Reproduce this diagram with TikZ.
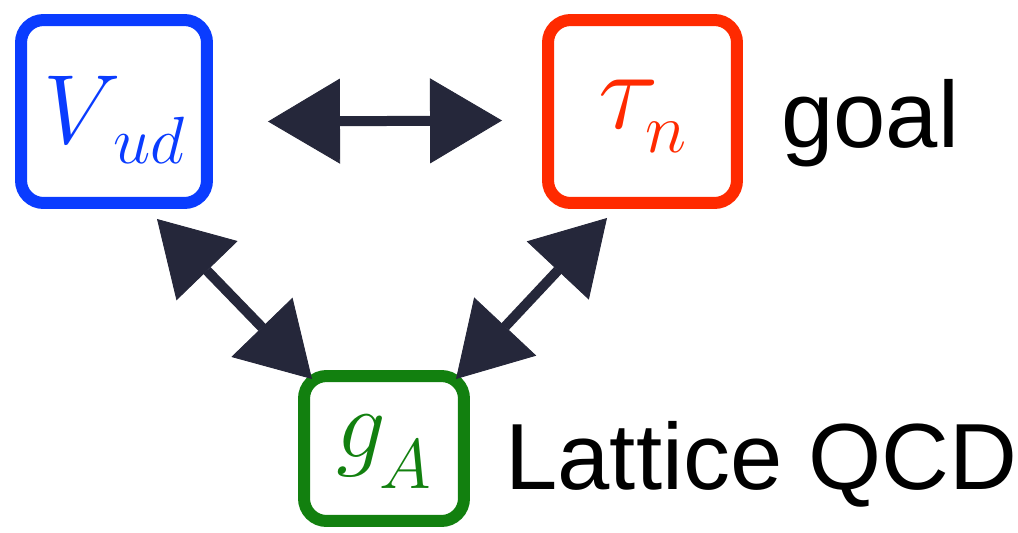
\RequirePackage{fix-cm}
\documentclass[tikz,border=0pt]{standalone}
\usepackage{fontspec}
\setsansfont{Liberation Sans}
\usetikzlibrary{arrows.meta,calc}
\definecolor{vudblue}{HTML}{0A3CFF}
\definecolor{taured}{HTML}{FF2A00}
\definecolor{gagreen}{HTML}{12800F}
\definecolor{arrowink}{HTML}{25273A}

% symbol with a lowered subscript: main, sub, size, sub size, drop, kern
\newcommand{\symsub}[6]{%
  {\fontsize{#3}{#3}\selectfont$#1$}\kern#6%
  \raisebox{-#5}{\fontsize{#4}{#4}\selectfont$#2$}}

\begin{document}
\begin{tikzpicture}[x=0.02cm,y=-0.02cm]
  \tikzset{
    box/.style={draw=#1,text=#1,line width=0.24cm,rounded corners=0.45cm,
      inner sep=0pt,text depth=0.02cm},
    link/.style={arrowink,line width=0.2cm,
      {Triangle[length=1.44cm,width=1.7cm,line width=0.5pt]}-{Triangle[length=1.44cm,width=1.7cm,line width=0.5pt]}},
    tag/.style={font=\sffamily\fontsize{53.5pt}{56pt}\selectfont,text=black,
      inner sep=0pt,anchor=base west},
  }
  \useasboundingbox (0,0) rectangle (1018,532);

  % Boxes, centred on the stroke line.
  \node[box=vudblue,minimum width=3.72cm,minimum height=3.66cm,text height=1.28cm]
    (vud) at (114,111.5) {\symsub{V}{ud}{56pt}{38pt}{11.4pt}{-4pt}};
  \node[box=taured,minimum width=3.78cm,minimum height=3.66cm,text height=0.68cm]
    (tau) at (642.5,111.5) {\symsub{\tau}{n}{64pt}{40pt}{14.2pt}{-8pt}\hspace{0.25cm}};
  \node[box=gagreen,minimum width=3.2cm,minimum height=2.9cm,text height=0.36cm]
    (ga) at (384,448.5) {\symsub{g}{A}{56pt}{40pt}{18.2pt}{-4pt}};

  % Side labels.
  \node[tag] (goal) at (781,147) {goal};
  \node[tag] (lqcd) at (505,489) {Lattice QCD};

  % Double arrows between the boxes.
  \draw[link] ($(vud.east)+(55,10)$) -- ($(tau.west)+(-40,9)$);
  \draw[link] ($(vud.south)+(43,10)$) -- ($(ga.north west)+(14,9)$);
  \draw[link] ($(tau.south)+(-35.5,9)$) -- ($(ga.north east)+(-14,9)$);
\end{tikzpicture}
\end{document}
